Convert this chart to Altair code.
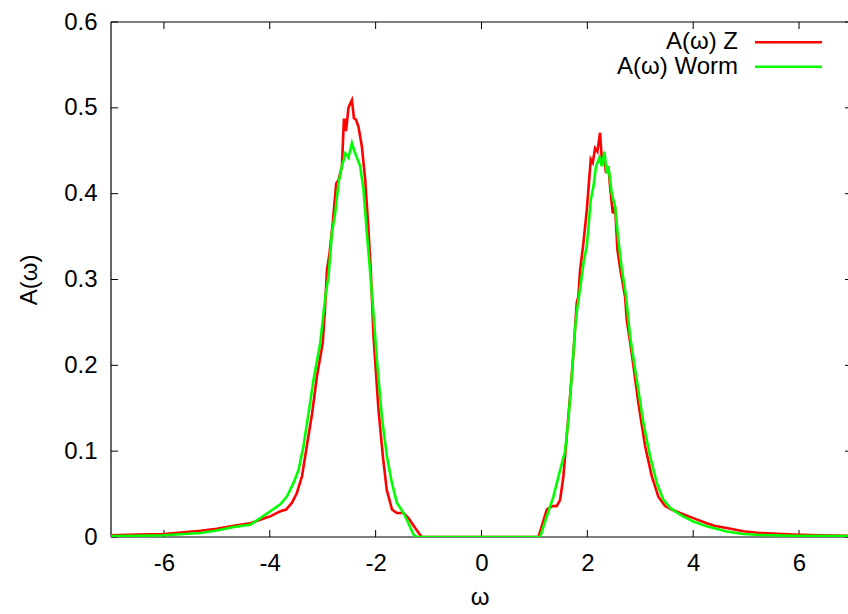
import altair as alt
import pandas as pd

# ---- data ----
z_omega = [-7.0, -6.5, -6.0, -5.31, -5.0, -4.68, -4.37, -4.18, -4.05, -3.99, -3.90, -3.80, -3.69, -3.58,
           -3.49, -3.39, -3.30, -3.20, -3.11, -3.00, -2.96, -2.92, -2.87, -2.81, -2.745, -2.70, -2.637,
           -2.60, -2.575, -2.56, -2.53, -2.513, -2.48, -2.448, -2.41, -2.37, -2.324, -2.26, -2.197, -2.135,
           -2.09, -2.04, -1.946, -1.863, -1.79, -1.69, -1.60, -1.474, -1.38, -1.253, -1.13, 0.0, 1.076,
           1.234, 1.33, 1.42, 1.485, 1.548, 1.61, 1.674, 1.737, 1.80, 1.831, 1.863, 1.925, 1.99, 2.065,
           2.103, 2.146, 2.19, 2.241, 2.273, 2.303, 2.354, 2.398, 2.43, 2.481, 2.524, 2.568, 2.619, 2.713,
           2.745, 2.839, 2.964, 3.091, 3.217, 3.342, 3.468, 3.595, 3.751, 4.003, 4.256, 4.40, 4.63, 4.95,
           5.26, 5.89, 6.4, 6.9, 7.0]
z_A = [0.002, 0.0028, 0.0035, 0.0073, 0.0095, 0.013, 0.016, 0.020, 0.023, 0.024, 0.027, 0.030, 0.032, 0.040,
       0.051, 0.071, 0.106, 0.144, 0.187, 0.226, 0.262, 0.311, 0.331, 0.366, 0.412, 0.416, 0.432,
       0.486, 0.486, 0.473, 0.490, 0.500, 0.505, 0.509, 0.488, 0.486, 0.478, 0.455, 0.416, 0.358,
       0.308, 0.234, 0.148, 0.094, 0.055, 0.032, 0.028, 0.028, 0.022, 0.0105, 0.0, 0.0, 0.0,
       0.032, 0.036, 0.036, 0.043, 0.071, 0.117, 0.164, 0.214, 0.273, 0.280, 0.311, 0.342, 0.381, 0.440,
       0.436, 0.453, 0.449, 0.471, 0.440, 0.447, 0.424, 0.432, 0.408, 0.377, 0.385, 0.335, 0.313, 0.280,
       0.253, 0.214, 0.156, 0.106, 0.071, 0.047, 0.036, 0.032, 0.028, 0.022, 0.016, 0.013, 0.0105, 0.0066,
       0.0047, 0.003, 0.002, 0.0015, 0.0014]

worm_omega = [-7.0, -6.5, -6.0, -5.31, -5.0, -4.68, -4.37, -4.18, -3.99, -3.80, -3.676, -3.551, -3.457,
              -3.363, -3.268, -3.174, -3.047, -2.95, -2.89, -2.826, -2.764, -2.702, -2.637, -2.60, -2.575,
              -2.543, -2.513, -2.448, -2.40, -2.354, -2.292, -2.23, -2.165, -2.103, -2.04, -1.977, -1.882,
              -1.788, -1.693, -1.599, -1.474, -1.38, -1.285, -1.221, 0.0, 1.107, 1.234, 1.359, 1.486, 1.58,
              1.642, 1.706, 1.768, 1.80, 1.876, 1.93, 1.99, 2.065, 2.114, 2.165, 2.228, 2.273, 2.322, 2.367,
              2.398, 2.462, 2.524, 2.586, 2.65, 2.732, 2.807, 2.934, 3.059, 3.185, 3.312, 3.436, 3.563,
              3.751, 4.003, 4.256, 4.507, 4.63, 4.947, 5.262, 5.891, 6.9, 7.0]
worm_A = [0.001, 0.0015, 0.002, 0.0047, 0.0075, 0.0117, 0.0143, 0.022, 0.030, 0.038, 0.047, 0.063, 0.078,
          0.106, 0.144, 0.183, 0.226, 0.280, 0.304, 0.354, 0.377, 0.412, 0.432, 0.440, 0.447,
          0.445, 0.442, 0.459, 0.449, 0.442, 0.432, 0.405, 0.354, 0.308, 0.260, 0.207, 0.140,
          0.094, 0.063, 0.040, 0.028, 0.016, 0.003, 0.0, 0.0, 0.0, 0.024, 0.047, 0.078, 0.100,
          0.137, 0.187, 0.242, 0.262, 0.295, 0.320, 0.339, 0.393, 0.408, 0.432, 0.442, 0.432, 0.449, 0.424,
          0.432, 0.400, 0.385, 0.346, 0.313, 0.280, 0.234, 0.183, 0.133, 0.094, 0.063, 0.0435, 0.034,
          0.026, 0.018, 0.0124, 0.0085, 0.0065, 0.0035, 0.0023, 0.0015, 0.001, 0.001]

legend_labels = ["A(\u03c9) Z", "A(\u03c9) Worm"]
series_colors = ["#ff0000", "#00ff00"]
x_ticks = [-6, -4, -2, 0, 2, 4, 6]
y_ticks = [0, 0.1, 0.2, 0.3, 0.4, 0.5, 0.6]
x_title = "\u03c9"
y_title = "A(\u03c9)"

# ---- styling ----
W, H = 737, 515
FONT = "Liberation Sans"
FS = 24
LW = 2.6

xscale = alt.Scale(domain=[-7, 6.925], nice=False, zero=False)
yscale = alt.Scale(domain=[0, 0.6], nice=False, zero=False)

x_axis = alt.Axis(values=x_ticks, labelExpr="'' + datum.value", ticks=False, domain=False, grid=False,
                  labelPadding=14, labelFontSize=FS, labelFont=FONT, labelColor="black",
                  labelFlush=False, labelOverlap=False,
                  title=x_title, titleFont=FONT, titleFontSize=FS, titleFontWeight="normal",
                  titleColor="black", titleY=67, titleBaseline="alphabetic")
y_axis = alt.Axis(values=y_ticks, labelExpr="datum.value == 0 ? '0' : format(datum.value, '.1f')",
                  ticks=False, domain=False, grid=False, labelPadding=14, labelFontSize=FS,
                  labelFont=FONT, labelColor="black", labelFlush=False, labelOverlap=False,
                  title=y_title, titleFont=FONT, titleFontSize=FS, titleFontWeight="normal",
                  titleColor="black", titleAngle=270, titleX=-75, titleY=H / 2,
                  titleBaseline="alphabetic", titleAlign="center")


def X(field):
    return alt.X(field, type="quantitative", scale=xscale, axis=x_axis)


def Y(field):
    return alt.Y(field, type="quantitative", scale=yscale, axis=y_axis)


z_df = pd.DataFrame({"w": z_omega, "A": z_A})
worm_df = pd.DataFrame({"w": worm_omega, "A": worm_A})
xt_df = pd.DataFrame({"t": x_ticks})
yt_df = pd.DataFrame({"t": y_ticks})
one = pd.DataFrame({"k": [0]})

frame_top = alt.Chart(one).mark_rule(color="black", strokeWidth=1.2).encode(
    x=alt.value(0), x2=alt.value(W), y=alt.value(0))
frame_left = alt.Chart(one).mark_rule(color="black", strokeWidth=1.2).encode(
    x=alt.value(0), y=alt.value(0), y2=alt.value(H))
frame_bottom = alt.Chart(one).mark_rule(color="black", strokeWidth=1.2).encode(
    x=alt.value(0), x2=alt.value(W), y=alt.value(H))

tick_bottom = alt.Chart(xt_df).mark_rule(color="black", strokeWidth=1).encode(
    x=X("t"), y=alt.value(H), y2=alt.value(H - 7))
tick_top = alt.Chart(xt_df).mark_rule(color="black", strokeWidth=1).encode(
    x=X("t"), y=alt.value(0), y2=alt.value(7))
tick_left = alt.Chart(yt_df).mark_rule(color="black", strokeWidth=1).encode(
    y=Y("t"), x=alt.value(0), x2=alt.value(7))
tick_right = alt.Chart(yt_df).mark_rule(color="black", strokeWidth=1).encode(
    y=Y("t"), x=alt.value(W - 3), x2=alt.value(W))

z_line = alt.Chart(z_df).mark_line(color=series_colors[0], strokeWidth=LW, clip=True).encode(
    x=X("w"), y=Y("A"))
worm_line = alt.Chart(worm_df).mark_line(color=series_colors[1], strokeWidth=LW, clip=True).encode(
    x=X("w"), y=Y("A"))

leg_df0 = pd.DataFrame({"label": [legend_labels[0]]})
leg_df1 = pd.DataFrame({"label": [legend_labels[1]]})
leg_text0 = alt.Chart(leg_df0).mark_text(align="right", baseline="middle", font=FONT, fontSize=FS,
                                         color="black").encode(
    text="label:N", x=alt.value(627), y=alt.value(20))
leg_text1 = alt.Chart(leg_df1).mark_text(align="right", baseline="middle", font=FONT, fontSize=FS,
                                         color="black").encode(
    text="label:N", x=alt.value(627), y=alt.value(44.5))
leg_line0 = alt.Chart(leg_df0).mark_rule(color=series_colors[0], strokeWidth=LW).encode(
    x=alt.value(644), x2=alt.value(711), y=alt.value(20.3))
leg_line1 = alt.Chart(leg_df1).mark_rule(color=series_colors[1], strokeWidth=LW).encode(
    x=alt.value(644), x2=alt.value(711), y=alt.value(44.7))

chart = alt.layer(
    frame_top, frame_left, frame_bottom,
    tick_bottom, tick_top, tick_left, tick_right,
    z_line, worm_line,
    leg_text0, leg_text1, leg_line0, leg_line1,
).properties(
    width=W, height=H,
    autosize=alt.AutoSizeParams(type="none"),
    padding={"left": 111, "top": 22, "right": 0, "bottom": 77},
    background="white",
).configure_view(stroke=None)

chart.save("out.html", embed_options={"renderer": "svg", "actions": False})
